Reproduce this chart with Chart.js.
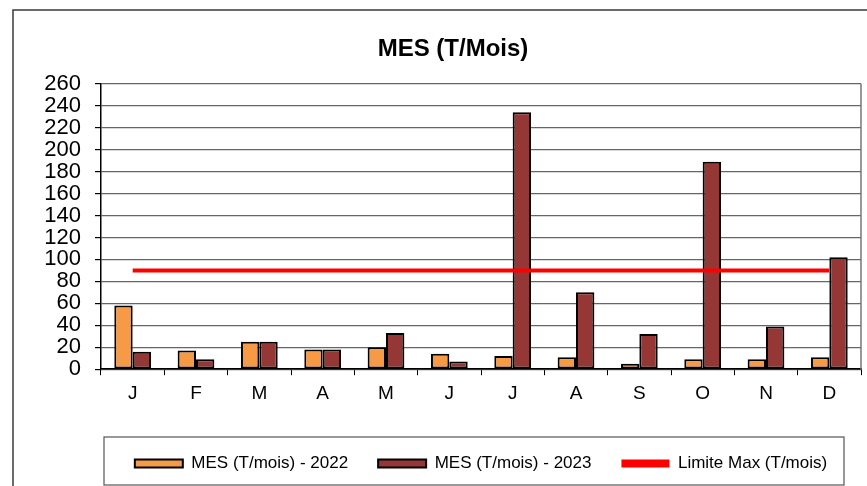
<!DOCTYPE html>
<html>
<head>
<meta charset="utf-8">
<script src="https://cdn.jsdelivr.net/npm/chart.js@4.4.0/dist/chart.umd.min.js"></script>
<style>
  body { margin: 0; background: #fff; }
  #wrap { position: relative; width: 867px; height: 486px; }
</style>
</head>
<body>
<div id="wrap"><canvas id="myChart1" width="867" height="486"></canvas></div>
<script>
var months = ['J', 'F', 'M', 'A', 'M', 'J', 'J', 'A', 'S', 'O', 'N', 'D'];
var mes2022 = [58, 17, 25, 18, 20, 14, 12, 11, 5, 9, 9, 11];
var mes2023 = [16, 9, 25, 18, 33, 7, 234, 70, 32, 189, 39, 102];
var limiteMax = [90, 90, 90, 90, 90, 90, 90, 90, 90, 90, 90, 90];

Chart.defaults.font.family = "'Liberation Sans', Arial, sans-serif";
Chart.defaults.color = '#000';

// frames: outer chart border, legend box, right side of plot area
var frames = {
  id: 'frames',
  afterLayout: function (chart) {
    // center the legend under the plot area, not the whole canvas
    chart.legend.left = chart.chartArea.left;
    chart.legend.right = chart.chartArea.right;
  },
  beforeDraw: function (chart) {
    var ctx = chart.ctx;
    ctx.save();
    ctx.fillStyle = '#fff';
    ctx.fillRect(0, 0, chart.width, chart.height);
    ctx.strokeStyle = '#3a3a3a';
    ctx.lineWidth = 1.5;
    ctx.strokeRect(13, 10, 900, 520);
    ctx.restore();
  },
  afterDraw: function (chart) {
    var ctx = chart.ctx;
    var a = chart.chartArea;
    ctx.save();
    ctx.strokeStyle = '#777';
    ctx.lineWidth = 1.5;
    ctx.beginPath();
    ctx.moveTo(a.right, a.top);
    ctx.lineTo(a.right, a.bottom);
    ctx.stroke();
    ctx.strokeStyle = '#555';
    ctx.lineWidth = 1.2;
    ctx.strokeRect(104, 437, 740, 48);
    ctx.restore();
  }
};

var chart = document.getElementById('myChart1').getContext('2d');
var myChart1 = new Chart(chart, {
  type: 'bar',
  data: {
    labels: months,
    datasets: [
      {
        label: 'MES (T/mois) - 2022',
        data: mes2022,
        backgroundColor: '#F79A45',
        borderColor: '#000',
        borderWidth: 2,
        borderSkipped: false,
        order: 2
      },
      {
        label: 'MES (T/mois) - 2023',
        data: mes2023,
        backgroundColor: '#953735',
        borderColor: '#000',
        borderWidth: 2,
        borderSkipped: false,
        order: 2
      },
      {
        type: 'line',
        label: 'Limite Max (T/mois)',
        data: limiteMax,
        borderColor: '#FF0000',
        backgroundColor: '#FF0000',
        borderWidth: 4,
        pointRadius: 0,
        fill: false,
        order: 1
      }
    ]
  },
  options: {
    responsive: false,
    animation: false,
    layout: {
      padding: { left: 45, right: 6, top: 0, bottom: 4 }
    },
    datasets: {
      bar: {
        barPercentage: 1,
        categoryPercentage: 0.58
      }
    },
    scales: {
      x: {
        grid: {
          offset: true,
          drawOnChartArea: false,
          drawTicks: true,
          tickLength: 6,
          color: '#000'
        },
        border: { color: '#000', width: 1.5 },
        ticks: {
          font: { size: 19 },
          padding: 7
        },
        afterFit: function (scale) {
          scale.height += 13;
        }
      },
      y: {
        min: 0,
        max: 260,
        grid: {
          color: '#666',
          lineWidth: 1.2,
          tickLength: 6,
          tickColor: '#000'
        },
        border: { color: '#000', width: 1.5 },
        ticks: {
          stepSize: 20,
          autoSkip: false,
          font: { size: 22, lineHeight: 1 },
          padding: 14
        },
        afterFit: function (scale) {
          scale.width = 56;
        }
      }
    },
    plugins: {
      title: {
        display: true,
        text: 'MES (T/Mois)',
        font: { size: 24, weight: 'bold' },
        color: '#000',
        padding: { top: 35, bottom: 20 }
      },
      legend: {
        position: 'bottom',
        labels: {
          boxWidth: 48,
          boxHeight: 8,
          padding: 30,
          font: { size: 17 },
          color: '#000',
          generateLabels: function (c) {
            return c.data.datasets.map(function (ds, i) {
              var isLine = ds.type === 'line';
              return {
                text: ds.label,
                fillStyle: ds.backgroundColor,
                strokeStyle: isLine ? ds.borderColor : '#000',
                lineWidth: isLine ? 0 : 2,
                datasetIndex: i
              };
            });
          }
        }
      },
      tooltip: { enabled: false }
    }
  },
  plugins: [frames]
});
</script>
</body>
</html>
